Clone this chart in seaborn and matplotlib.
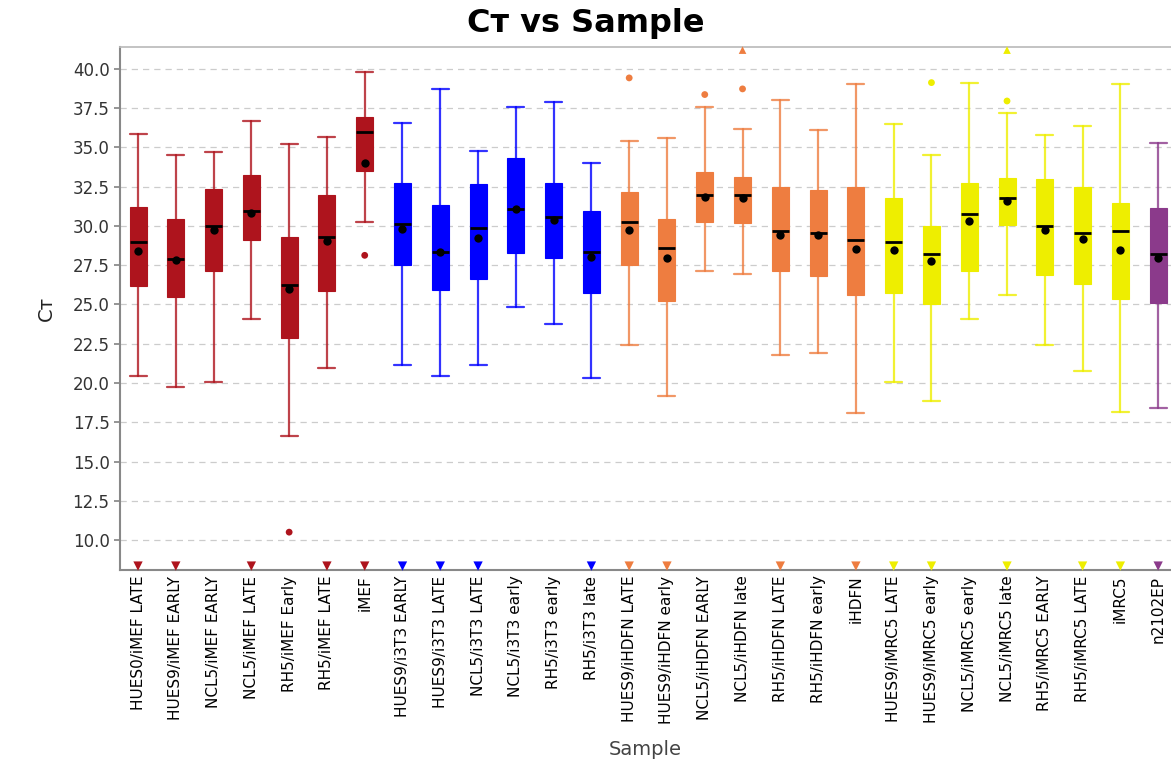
import numpy as np
import pandas as pd
import matplotlib
matplotlib.use("Agg")
import matplotlib.pyplot as plt
import seaborn as sns

# sample names and their cell-line group
samples = ["HUES0/iMEF LATE", "HUES9/iMEF EARLY", "NCL5/iMEF EARLY", "NCL5/iMEF LATE",
           "RH5/iMEF Early", "RH5/iMEF LATE", "iMEF",
           "HUES9/i3T3 EARLY", "HUES9/i3T3 LATE", "NCL5/i3T3 LATE", "NCL5/i3T3 early",
           "RH5/i3T3 early", "RH5/i3T3 late",
           "HUES9/iHDFN LATE", "HUES9/iHDFN early", "NCL5/iHDFN EARLY", "NCL5/iHDFN late",
           "RH5/iHDFN LATE", "RH5/iHDFN early", "iHDFN",
           "HUES9/iMRC5 LATE", "HUES9/iMRC5 early", "NCL5/iMRC5 early", "NCL5/iMRC5 late",
           "RH5/iMRC5 EARLY", "RH5/iMRC5 LATE", "iMRC5",
           "n2102EP"]
groups = ["iMEF"] * 7 + ["i3T3"] * 6 + ["iHDFN"] * 7 + ["iMRC5"] * 7 + ["n2102EP"]

# box statistics (Ct)
whisker_lo = [20.45, 19.73, 20.06, 24.10, 16.62, 20.94, 30.27,
              21.13, 20.43, 21.13, 24.86, 23.78, 20.34,
              22.42, 19.15, 27.15, 26.92, 21.80, 21.91, 18.07,
              20.06, 18.87, 24.10, 25.62, 22.42, 20.74, 18.18,
              18.39]
q1 = [26.18, 25.46, 27.11, 29.09, 22.87, 25.84, 33.48,
      27.50, 25.95, 26.62, 28.30, 27.98, 25.73,
      27.50, 25.24, 30.25, 30.17, 27.11, 26.82, 25.61,
      25.71, 25.03, 27.11, 30.06, 26.88, 26.29, 25.35,
      25.10]
median = [28.98, 27.88, 30.00, 30.97, 26.22, 29.30, 35.99,
          30.10, 28.34, 29.89, 31.10, 30.60, 28.32,
          30.27, 28.60, 31.96, 31.96, 29.68, 29.58, 29.09,
          28.98, 28.22, 30.76, 31.76, 29.98, 29.58, 29.68,
          28.22]
mean = [28.43, 27.85, 29.73, 30.81, 26.01, 29.03, 34.03,
        29.83, 28.34, 29.22, 31.10, 30.38, 28.04,
        29.73, 27.94, 31.83, 31.78, 29.45, 29.45, 28.54,
        28.49, 27.75, 30.30, 31.57, 29.73, 29.15, 28.45,
        27.96]
q3 = [31.19, 30.47, 32.34, 33.23, 29.28, 31.96, 36.96,
      32.72, 31.36, 32.66, 34.33, 32.76, 30.97,
      32.15, 30.47, 33.42, 33.14, 32.46, 32.31, 32.48,
      31.76, 30.00, 32.74, 33.08, 32.97, 32.48, 31.46,
      31.17]
whisker_hi = [35.86, 34.50, 34.69, 36.69, 35.20, 35.67, 39.81,
              36.58, 38.73, 34.80, 37.56, 37.88, 34.01,
              35.39, 35.59, 37.56, 36.16, 38.03, 36.10, 39.04,
              36.48, 34.50, 39.13, 37.18, 35.78, 36.37, 39.04,
              35.29]

# outliers inside the visible range
outlier_sample = ["RH5/iMEF Early", "iMEF", "HUES9/iHDFN LATE", "NCL5/iHDFN EARLY",
                  "NCL5/iHDFN late", "HUES9/iMRC5 early", "NCL5/iMRC5 late"]
outlier_value = [10.5, 28.13, 39.43, 38.37, 38.73, 39.13, 37.96]

# samples with values beyond the axis range (drawn as arrows)
below_range = ["HUES0/iMEF LATE", "HUES9/iMEF EARLY", "NCL5/iMEF LATE", "RH5/iMEF LATE", "iMEF",
               "HUES9/i3T3 EARLY", "HUES9/i3T3 LATE", "NCL5/i3T3 LATE", "RH5/i3T3 late",
               "HUES9/iHDFN LATE", "HUES9/iHDFN early", "RH5/iHDFN LATE", "iHDFN",
               "HUES9/iMRC5 LATE", "HUES9/iMRC5 early", "NCL5/iMRC5 late", "RH5/iMRC5 LATE",
               "iMRC5", "n2102EP"]
above_range = ["NCL5/iHDFN late", "NCL5/iMRC5 late"]

palette = {"iMEF": "#ae141d", "i3T3": "#0000ff", "iHDFN": "#ee7d40",
           "iMRC5": "#eeee00", "n2102EP": "#8b3a8b"}

df = pd.DataFrame({"sample": samples, "group": groups, "lo": whisker_lo, "q1": q1,
                   "med": median, "mean": mean, "q3": q3, "hi": whisker_hi})
df["pos"] = np.arange(len(df))
df["color"] = df["group"].map(palette)

sns.set_theme(style="white")
plt.rcParams["font.family"] = ["DejaVu Sans"]

fig = plt.figure(figsize=(11.71, 7.65), dpi=100)
ax = fig.add_axes([0.1025, 0.2549, 0.8975, 0.6837])

ymin, ymax = 8.09, 41.4
ax.set_ylim(ymin, ymax)
ax.set_xlim(-0.476, len(df) - 1 + 0.34)
ax.set_yticks(np.arange(10, 40.01, 2.5))
ax.yaxis.grid(True, color="#cccccc", linestyle=(0, (5, 4)), linewidth=0.9)
ax.set_axisbelow(True)

width = 0.45
for _, r in df.iterrows():
    stats = [{"whislo": r.lo, "q1": r.q1, "med": r.med, "q3": r.q3, "whishi": r.hi,
              "fliers": []}]
    ax.bxp(stats, positions=[r.pos], widths=width, patch_artist=True, showfliers=False,
           boxprops=dict(facecolor=r.color, edgecolor=r.color, linewidth=0.8),
           whiskerprops=dict(color=r.color, linewidth=1.6, alpha=0.8),
           capprops=dict(color=r.color, linewidth=1.6, alpha=0.8),
           medianprops=dict(color="black", linewidth=2.0),
           capwidths=width, manage_ticks=False)

# means
sns.scatterplot(x=df["pos"], y=df["mean"], color="black", s=36, marker="o",
                linewidth=0, zorder=5, ax=ax, legend=False)

# outliers
out = pd.DataFrame({"sample": outlier_sample, "value": outlier_value})
out = out.merge(df[["sample", "pos", "group"]], on="sample")
sns.scatterplot(data=out, x="pos", y="value", hue="group", palette=palette, s=24,
                marker="o", linewidth=0, zorder=5, ax=ax, legend=False)

# off-scale indicators
low = df[df["sample"].isin(below_range)].copy()
low["y"] = ymin + 0.25
sns.scatterplot(data=low, x="pos", y="y", hue="group", palette=palette, s=45,
                marker="v", linewidth=0, zorder=5, ax=ax, legend=False, clip_on=False)
high = df[df["sample"].isin(above_range)].copy()
high["y"] = ymax - 0.2
sns.scatterplot(data=high, x="pos", y="y", hue="group", palette=palette, s=30,
                marker="^", linewidth=0, zorder=5, ax=ax, legend=False, clip_on=False)

ax.set_xticks(df["pos"])
ax.set_xticklabels(df["sample"], rotation=90, fontsize=11, color="black")
ax.tick_params(axis="y", labelsize=12, labelcolor="#333333", length=4, color="#888888",
               left=True, direction="out")
ax.tick_params(axis="x", length=0, pad=4)

for side in ["left", "bottom"]:
    ax.spines[side].set_color("#888888")
    ax.spines[side].set_linewidth(1.5)
ax.spines["top"].set_color("#bbbbbb")
ax.spines["right"].set_visible(False)

ax.set_xlabel("Sample", fontsize=14, color="#444444", labelpad=12)
ax.set_ylabel("Cт", fontsize=14, color="#222222", labelpad=12)
fig.text(0.5, 0.958, "Cт vs Sample", fontsize=23, fontweight="heavy", color="black",
         ha="center", va="baseline")

fig.savefig("out.png", dpi=100)
